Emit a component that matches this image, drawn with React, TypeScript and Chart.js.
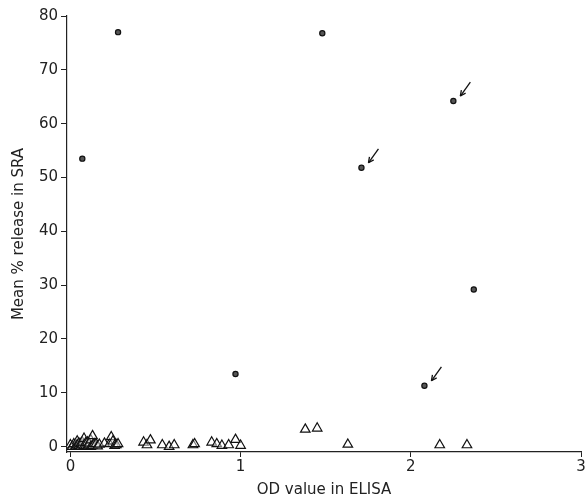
import React, { useEffect, useRef } from "react";
import { Chart, registerables } from "chart.js";

Chart.register(...registerables);

// Positive SRA (circles)
const posX = [0.07, 0.28, 1.48, 1.71, 2.25, 0.97, 2.08, 2.37];
const posY = [53.5, 77.0, 76.8, 51.8, 64.2, 13.5, 11.3, 29.2];
// indices of positive points flagged with arrows
const arrowIdx = [3, 4, 6];

// Negative SRA (triangles)
const negX = [
  0.0, 0.01, 0.02, 0.03, 0.04, 0.04, 0.05, 0.05, 0.06, 0.06, 0.07, 0.07, 0.08, 0.08, 0.09,
  0.09, 0.1, 0.1, 0.11, 0.11, 0.12, 0.12, 0.13, 0.13, 0.14, 0.15, 0.16,
  0.17, 0.2, 0.23, 0.24, 0.25, 0.26, 0.27, 0.28,
  0.43, 0.45, 0.47, 0.54, 0.58, 0.61, 0.72, 0.73,
  0.83, 0.86, 0.89, 0.93, 0.97, 1.0,
  1.38, 1.45, 1.63, 2.17, 2.33,
];
const negY = [
  0.3, 0.0, 0.5, 0.1, 1.0, 0.3, 0.2, 0.6, 0.5, 0.0, 0.3, 0.8, 1.5, 0.2, 0.2,
  0.7, 0.8, 0.1, 0.3, 0.6, 1.2, 0.0, 2.0, 0.2, 0.5, 0.5, 0.1,
  0.4, 0.6, 0.5, 1.8, 1.0, 0.2, 0.3, 0.5,
  0.8, 0.3, 1.2, 0.3, 0.0, 0.3, 0.3, 0.5,
  0.8, 0.5, 0.2, 0.3, 1.3, 0.2,
  3.2, 3.4, 0.4, 0.3, 0.3,
];

const xTicks = [0, 1, 2, 3];
const yTicks = [0, 10, 20, 30, 40, 50, 60, 70, 80];

const FONT = "'DejaVu Sans', Verdana, sans-serif";

const arrowPlugin = {
  id: "arrows",
  afterDatasetsDraw(chart: any) {
    const { ctx, scales } = chart;
    ctx.save();
    ctx.strokeStyle = "#111";
    ctx.fillStyle = "#111";
    ctx.lineWidth = 1.3;
    arrowIdx.forEach((i) => {
      const px = scales.x.getPixelForValue(posX[i]);
      const py = scales.y.getPixelForValue(posY[i]);
      const hx = px + 7, hy = py - 5;
      const tx = px + 17, ty = py - 19;
      ctx.beginPath();
      ctx.moveTo(tx, ty);
      ctx.lineTo(hx, hy);
      ctx.stroke();
      const ang = Math.atan2(hy - ty, hx - tx);
      const L = 6;
      ctx.beginPath();
      ctx.moveTo(hx, hy);
      ctx.lineTo(hx - L * Math.cos(ang - 0.45), hy - L * Math.sin(ang - 0.45));
      ctx.moveTo(hx, hy);
      ctx.lineTo(hx - L * Math.cos(ang + 0.45), hy - L * Math.sin(ang + 0.45));
      ctx.stroke();
    });
    ctx.restore();
  },
};

export default function App() {
  const ref = useRef<HTMLCanvasElement>(null);
  useEffect(() => {
    document.body.style.margin = "0";
    const chart = new Chart(ref.current!, {
      type: "scatter",
      data: {
        datasets: [
          {
            label: "neg",
            data: negX.map((x, i) => ({ x, y: negY[i] })),
            pointStyle: "triangle",
            pointRadius: 5.5,
            backgroundColor: "rgba(255,255,255,0.45)",
            borderColor: "#111",
            borderWidth: 1.2,
          },
          {
            label: "pos",
            data: posX.map((x, i) => ({ x, y: posY[i] })),
            pointStyle: "circle",
            pointRadius: 2.6,
            backgroundColor: "#555",
            borderColor: "#111",
            borderWidth: 1.2,
          },
        ],
      },
      plugins: [arrowPlugin],
      options: {
        animation: false,
        responsive: false,
        layout: { padding: { top: 16, right: 7, left: 0, bottom: 0 } },
        plugins: { legend: { display: false }, tooltip: { enabled: false } },
        scales: {
          x: {
            type: "linear",
            min: -0.02,
            max: 3,
            afterBuildTicks: (s: any) => {
              s.ticks = xTicks.map((v) => ({ value: v }));
            },
            afterFit: (s: any) => {
              s.height = 50;
            },
            grid: { drawOnChartArea: false, tickLength: 5, color: "#222", lineWidth: 1 },
            border: { color: "#222", width: 1.2 },
            ticks: { color: "#222", font: { family: FONT, size: 15 }, padding: 1, maxRotation: 0 },
            title: {
              display: true,
              text: "OD value in ELISA",
              color: "#222",
              font: { family: FONT, size: 15 },
              padding: { top: 2, bottom: 3 },
            },
          },
          y: {
            type: "linear",
            min: -1,
            max: 80,
            afterBuildTicks: (s: any) => {
              s.ticks = yTicks.map((v) => ({ value: v }));
            },
            afterFit: (s: any) => {
              s.width = 67;
            },
            grid: { drawOnChartArea: false, tickLength: 6, color: "#222", lineWidth: 1 },
            border: { color: "#222", width: 1.2 },
            ticks: { color: "#222", font: { family: FONT, size: 15 }, padding: 3 },
            title: {
              display: true,
              text: "Mean % release in SRA",
              color: "#222",
              font: { family: FONT, size: 15 },
              padding: { top: 10, bottom: 0 },
            },
          },
        },
      },
    });
    return () => chart.destroy();
  }, []);
  return (
    <div style={{ width: 588, height: 502 }}>
      <canvas ref={ref} width={588} height={502} />
    </div>
  );
}
